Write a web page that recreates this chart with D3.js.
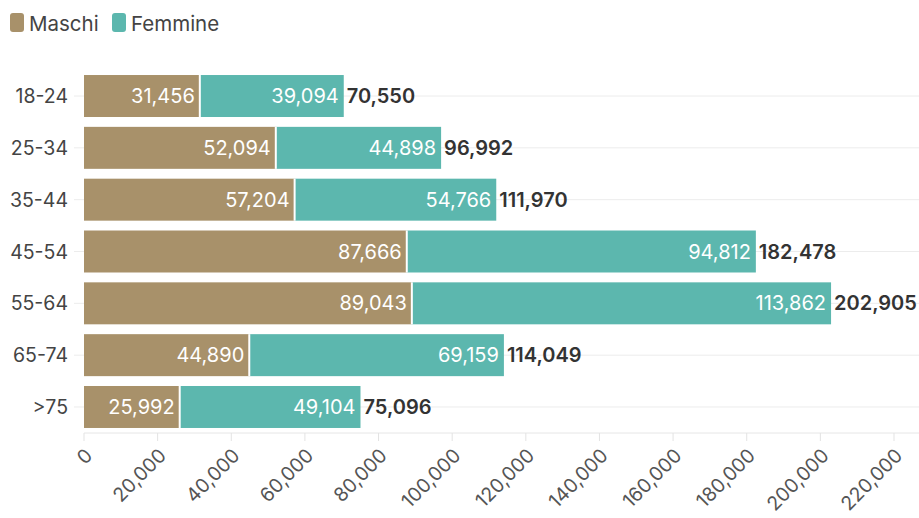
<!DOCTYPE html>
<html>
<head>
<meta charset="utf-8">
<script src="https://cdn.jsdelivr.net/npm/d3@7"></script>
<style>
  html, body { margin: 0; padding: 0; background: #fff; }
  svg { display: block; }
  text { font-family: Inter, "Open Sans", sans-serif; }
</style>
</head>
<body>
<svg id="chart" width="919" height="518"></svg>
<script>
const categories = ["18-24", "25-34", "35-44", "45-54", "55-64", "65-74", ">75"];
const maschi = [31456, 52094, 57204, 87666, 89043, 44890, 25992];
const femmine = [39094, 44898, 54766, 94812, 113862, 69159, 49104];
const seriesNames = ["Maschi", "Femmine"];
const seriesColors = ["#a8916a", "#5cb7ae"];
const tickValues = [0, 20000, 40000, 60000, 80000, 100000, 120000, 140000, 160000, 180000, 200000, 220000];

const svg = d3.select("#chart");
const fmt = d3.format(",");

const x = d3.scaleLinear().domain([0, 220000]).range([84, 894]);
const y = d3.scaleBand().domain(categories).range([70.1, 432.9]).paddingInner(0.19).paddingOuter(0.095);

const rows = categories.map((c, i) => ({ cat: c, m: maschi[i], f: femmine[i], t: maschi[i] + femmine[i] }));

// horizontal gridlines at category centers
svg.append("g").selectAll("line").data(categories).join("line")
  .attr("x1", 74).attr("x2", 919)
  .attr("y1", d => y(d) + y.bandwidth() / 2).attr("y2", d => y(d) + y.bandwidth() / 2)
  .attr("stroke", "#ececec").attr("stroke-width", 1);

// bottom baseline
svg.append("line").attr("x1", 84).attr("x2", 919).attr("y1", 433).attr("y2", 433)
  .attr("stroke", "#e6e6e6").attr("stroke-width", 1);

// x ticks
svg.append("g").selectAll("line").data(tickValues).join("line")
  .attr("x1", d => x(d)).attr("x2", d => x(d)).attr("y1", 433).attr("y2", 441)
  .attr("stroke", "#e3e3e3").attr("stroke-width", 1);

// x tick labels rotated
svg.append("g").selectAll("text").data(tickValues).join("text")
  .attr("transform", d => `translate(${x(d) + 6},${453}) rotate(-45)`)
  .attr("text-anchor", "end").attr("dominant-baseline", "middle")
  .attr("font-size", 19.5).attr("fill", "#555")
  .text(d => fmt(d));

// y labels
svg.append("g").selectAll("text").data(categories).join("text")
  .attr("x", 68).attr("y", d => y(d) + y.bandwidth() / 2)
  .attr("text-anchor", "end").attr("dominant-baseline", "central")
  .attr("font-size", 19.5).attr("fill", "#444")
  .text(d => d);

// bars
const g = svg.append("g");
g.selectAll("rect.m").data(rows).join("rect").attr("class", "m")
  .attr("x", x(0)).attr("y", d => y(d.cat))
  .attr("width", d => x(d.m) - x(0)).attr("height", y.bandwidth())
  .attr("fill", seriesColors[0]);
g.selectAll("rect.f").data(rows).join("rect").attr("class", "f")
  .attr("x", d => x(d.m)).attr("y", d => y(d.cat))
  .attr("width", d => x(d.t) - x(d.m)).attr("height", y.bandwidth())
  .attr("fill", seriesColors[1]);
// white separators
g.selectAll("line.sep").data(rows).join("line").attr("class", "sep")
  .attr("x1", d => x(d.m)).attr("x2", d => x(d.m))
  .attr("y1", d => y(d.cat)).attr("y2", d => y(d.cat) + y.bandwidth())
  .attr("stroke", "#fff").attr("stroke-width", 2);

// inside labels
g.selectAll("text.ml").data(rows).join("text").attr("class", "ml")
  .attr("x", d => x(d.m) - 5).attr("y", d => y(d.cat) + y.bandwidth() / 2)
  .attr("text-anchor", "end").attr("dominant-baseline", "central")
  .attr("font-size", 20).attr("fill", "#fff")
  .text(d => fmt(d.m));
g.selectAll("text.fl").data(rows).join("text").attr("class", "fl")
  .attr("x", d => x(d.t) - 5).attr("y", d => y(d.cat) + y.bandwidth() / 2)
  .attr("text-anchor", "end").attr("dominant-baseline", "central")
  .attr("font-size", 20).attr("fill", "#fff")
  .text(d => fmt(d.f));
// totals
g.selectAll("text.tl").data(rows).join("text").attr("class", "tl")
  .attr("x", d => x(d.t) + 3).attr("y", d => y(d.cat) + y.bandwidth() / 2)
  .attr("text-anchor", "start").attr("dominant-baseline", "central")
  .attr("font-size", 20).attr("font-weight", 600).attr("fill", "#333")
  .text(d => fmt(d.t));

// legend
const legendX = [10, 112];
const lg = svg.append("g");
seriesNames.forEach((s, i) => {
  lg.append("rect").attr("x", legendX[i]).attr("y", 13).attr("width", 14).attr("height", 19)
    .attr("rx", 3).attr("fill", seriesColors[i]);
  lg.append("text").attr("x", legendX[i] + 19).attr("y", 23)
    .attr("dominant-baseline", "central").attr("font-size", 20.5).attr("fill", "#444")
    .text(s);
});
</script>
</body>
</html>
